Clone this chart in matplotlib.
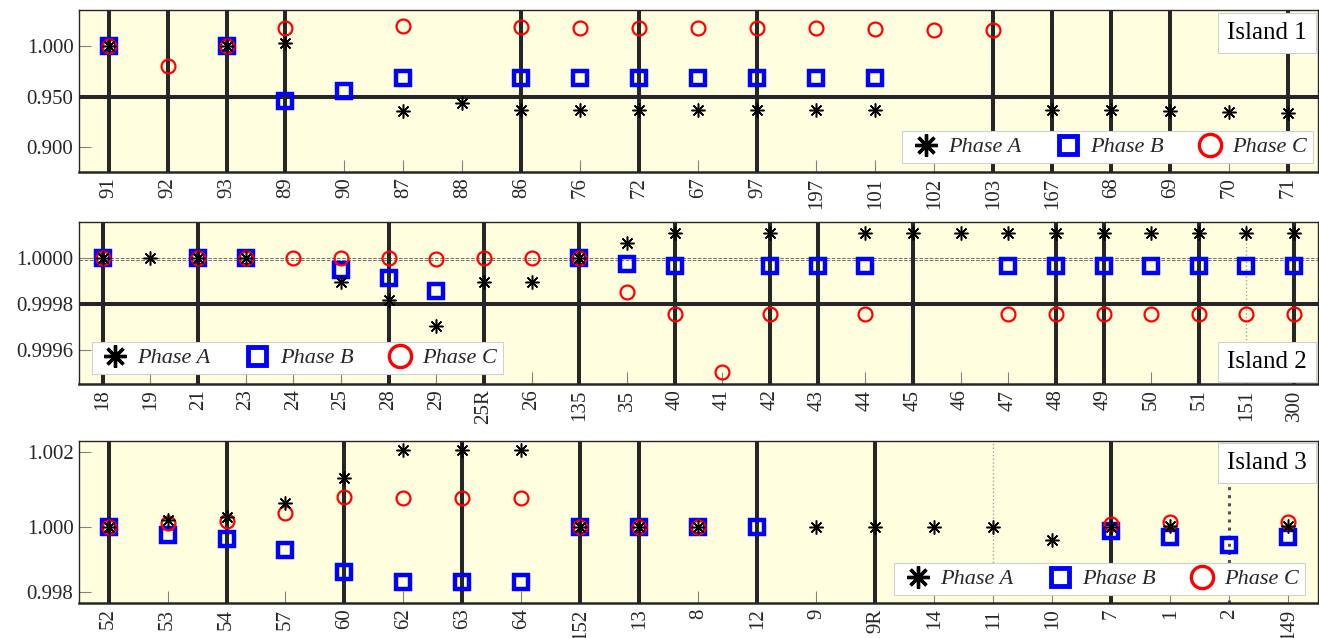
import matplotlib.pyplot as plt
import numpy as np
from matplotlib.lines import Line2D
from matplotlib.ticker import FixedLocator, FormatStrFormatter

nan = np.nan

# Isola 1
nodi_1 = ["91", "92", "93", "89", "90", "87", "88", "86", "76", "72", "67",
          "97", "197", "101", "102", "103", "167", "68", "69", "70", "71"]
fase_a_1 = [1.000, nan, 1.000, 1.003, nan, 0.936, 0.944, 0.937, 0.937, 0.937, 0.937,
            0.937, 0.937, 0.937, nan, nan, 0.937, 0.937, 0.936, 0.935, 0.934]
fase_b_1 = [1.000, nan, 1.000, 0.946, 0.956, 0.968, nan, 0.968, 0.968, 0.968, 0.968,
            0.968, 0.968, 0.968, nan, nan, nan, nan, nan, nan, nan]
fase_c_1 = [1.000, 0.980, 1.000, 1.018, nan, 1.020, nan, 1.019, 1.018, 1.018, 1.018,
            1.018, 1.018, 1.017, 1.016, 1.016, nan, nan, nan, nan, nan]
linee_1 = ["91", "92", "93", "89", "86", "72", "97", "103", "167", "68", "69", "71"]

# Isola 2
nodi_2 = ["18", "19", "21", "23", "24", "25", "28", "29", "25R", "26", "135", "35", "40",
          "41", "42", "43", "44", "45", "46", "47", "48", "49", "50", "51", "151", "300"]
fase_a_2 = [1.0, 1.0, 1.0, 1.0, nan, 0.999894, 0.999818, 0.999703, 0.999894, 0.999894,
            1.0, 1.0000635, 1.000107, nan, 1.000107, nan, 1.000107, 1.000107, 1.000107,
            1.000107, 1.000107, 1.000107, 1.000107, 1.000107, 1.000107, 1.000107]
fase_b_2 = [1.0, nan, 1.0, 1.0, nan, 0.999947, 0.999912, 0.999854, nan, nan,
            1.0, 0.999973, 0.999964, nan, 0.999964, 0.999964, 0.999964, nan, nan,
            0.999964, 0.999964, 0.999964, 0.999964, 0.999964, 0.999964, 0.999964]
fase_c_2 = [1.0, nan, 1.0, 1.0, 1.0, 1.0, 1.0, 0.999994, 1.0, 1.0,
            1.0, 0.999852, 0.999757, 0.999504, 0.999757, nan, 0.999757, nan, nan,
            0.999757, 0.999757, 0.999757, 0.999757, 0.999757, 0.999757, 0.999757]
linee_2 = ["18", "21", "28", "25R", "135", "40", "42", "43", "45", "48", "49", "51", "300"]
linee_sottili_2 = ["151"]

# Isola 3
nodi_3 = ["52", "53", "54", "57", "60", "62", "63", "64", "152", "13", "8",
          "12", "9", "9R", "14", "11", "10", "7", "1", "2", "149"]
fase_a_3 = [1.0, 1.00019, 1.00027, 1.00063, 1.00129, 1.00205, 1.00205, 1.00205, 1.0, 1.0, 1.0,
            nan, 1.0, 1.0, 1.0, 1.0, 0.99965, 1.0, 1.00003, nan, 1.00003]
fase_b_3 = [1.0, 0.99979, 0.99968, 0.99939, 0.99880, 0.99855, 0.99855, 0.99855, 1.0, 1.0, 1.0,
            1.0, nan, nan, nan, nan, nan, 0.99988, 0.99973, 0.99952, 0.99973]
fase_c_3 = [1.0, 1.00011, 1.00016, 1.00036, 1.00079, 1.00076, 1.00076, 1.00076, 1.0, 1.0, 1.0,
            nan, nan, nan, nan, nan, nan, 1.00007, 1.00014, nan, 1.00014]
linee_3 = ["52", "54", "60", "63", "152", "13", "12", "9R", "7"]
linee_sottili_3 = ["11"]
linee_punteggiate_3 = ["2"]

FONT = "Liberation Serif"
SFONDO = "#ffffe0"
SCURO = "#262626"


def stile_assi(ax, nodi):
    """ Sfondo, bordi e tick """
    ax.set_facecolor(SFONDO)
    for s in ax.spines.values():
        s.set_color(SCURO)
        s.set_linewidth(1.0)
    ax.spines["bottom"].set_linewidth(1.8)
    ax.set_xticks(range(len(nodi)))
    ax.set_xticklabels(nodi, rotation=90, fontfamily=FONT, fontsize=15)
    ax.set_xlim(-0.5, len(nodi) - 0.5)
    ax.tick_params(direction="in", length=8.5, width=0.8, color="#808080",
                   labelcolor=SCURO, labelsize=15, pad=4)
    for lab in ax.get_yticklabels():
        lab.set_fontfamily(FONT)


def disegna_fasi(ax, nodi, fase_a, fase_b, fase_c):
    """ Tensioni per fase """
    x = np.arange(len(nodi))
    ax.plot(x, fase_b, ls="none", marker="s", ms=9.5, mfc="none", mec="#0000ff",
            mew=3.2, zorder=4)
    ax.plot(x, fase_c, ls="none", marker="o", ms=10, mfc="none", mec="#ff0000",
            mew=1.6, zorder=5)
    ax.plot(x, fase_a, ls="none", marker=(8, 2, 0), ms=10, mec="black",
            mew=1.1, zorder=6)


def linee_nodi(ax, nodi, spesse, sottili=(), punteggiate=()):
    """ Linee verticali sui nodi """
    for n in spesse:
        ax.axvline(nodi.index(n), color=SCURO, lw=2.9, zorder=2)
    for n in sottili:
        ax.axvline(nodi.index(n), color="#a0a0a0", lw=1.0, ls=":", zorder=2)
    for n in punteggiate:
        ax.axvline(nodi.index(n), color="#505050", lw=2.2, ls=":", zorder=2)


def aggiungi_legenda(ax, loc, anchor):
    handles = [Line2D([], [], ls="none", marker=(8, 2, 0), ms=16, mec="black", mew=2.4),
               Line2D([], [], ls="none", marker="s", ms=13, mfc="none", mec="#0000ff", mew=3.5),
               Line2D([], [], ls="none", marker="o", ms=16, mfc="none", mec="#ff0000", mew=2.4)]
    leg = ax.legend(handles, ["Phase A", "Phase B", "Phase C"], ncol=3, loc=loc,
                    bbox_to_anchor=anchor, frameon=True, fancybox=False,
                    prop={"family": FONT, "style": "italic", "size": 16},
                    handletextpad=0.2, columnspacing=1.3, borderpad=0.25,
                    handlelength=1.6, borderaxespad=0)
    leg.get_frame().set_edgecolor("#d0d0d0")
    leg.get_frame().set_linewidth(0.8)
    leg.get_frame().set_facecolor("white")
    leg.get_frame().set_alpha(1)
    leg.set_zorder(10)
    for t in leg.get_texts():
        t.set_color(SCURO)


def etichetta_isola(ax, testo, y, va):
    ax.text(0.991, y, testo, transform=ax.transAxes, ha="right", va=va,
            fontfamily=FONT, fontsize=18, color="black", zorder=11,
            bbox=dict(boxstyle="square,pad=0.36", fc="white", ec="#d0d0d0", lw=0.8))


def plot_isole():
    fig = plt.figure(figsize=(13.19, 6.38), dpi=100)
    sinistra, larghezza, altezza = 0.0599, 0.9393, 0.2539
    ax1 = fig.add_axes([sinistra, 0.7304, larghezza, altezza])
    ax2 = fig.add_axes([sinistra, 0.3981, larghezza, altezza])
    ax3 = fig.add_axes([sinistra, 0.0549, larghezza, altezza])

    # Isola 1
    disegna_fasi(ax1, nodi_1, fase_a_1, fase_b_1, fase_c_1)
    linee_nodi(ax1, nodi_1, linee_1)
    ax1.axhline(0.95, color=SCURO, lw=2.9, zorder=2)
    ax1.set_ylim(0.875, 1.036)
    ax1.yaxis.set_major_locator(FixedLocator([0.90, 0.95, 1.00]))
    ax1.yaxis.set_major_formatter(FormatStrFormatter("%.3f"))
    stile_assi(ax1, nodi_1)
    aggiungi_legenda(ax1, "lower right", (0.996, 0.056))
    etichetta_isola(ax1, "Island 1", 0.925, "top")

    # Isola 2
    disegna_fasi(ax2, nodi_2, fase_a_2, fase_b_2, fase_c_2)
    linee_nodi(ax2, nodi_2, linee_2, sottili=linee_sottili_2)
    ax2.axhline(0.9998, color=SCURO, lw=2.9, zorder=2)
    ax2.axhline(1.0, color="#707070", lw=0.7, ls="--", zorder=1)
    ax2.axhline(0.99999, color="#707070", lw=0.7, ls="--", zorder=1)
    ax2.set_ylim(0.999454, 1.000154)
    ax2.yaxis.set_major_locator(FixedLocator([0.9996, 0.9998, 1.0]))
    ax2.yaxis.set_major_formatter(FormatStrFormatter("%.4f"))
    stile_assi(ax2, nodi_2)
    aggiungi_legenda(ax2, "lower left", (0.0105, 0.062))
    etichetta_isola(ax2, "Island 2", 0.065, "bottom")

    # Isola 3
    disegna_fasi(ax3, nodi_3, fase_a_3, fase_b_3, fase_c_3)
    linee_nodi(ax3, nodi_3, linee_3, sottili=linee_sottili_3,
               punteggiate=linee_punteggiate_3)
    ax3.set_ylim(0.99798, 1.00228)
    ax3.yaxis.set_major_locator(FixedLocator([0.99827, 1.0, 1.002]))
    ax3.yaxis.set_major_formatter(FormatStrFormatter("%.3f"))
    stile_assi(ax3, nodi_3)
    aggiungi_legenda(ax3, "lower right", (0.9895, 0.049))
    etichetta_isola(ax3, "Island 3", 0.93, "top")

    fig.savefig("out.png", dpi=100)


if __name__ == "__main__":
    plot_isole()
